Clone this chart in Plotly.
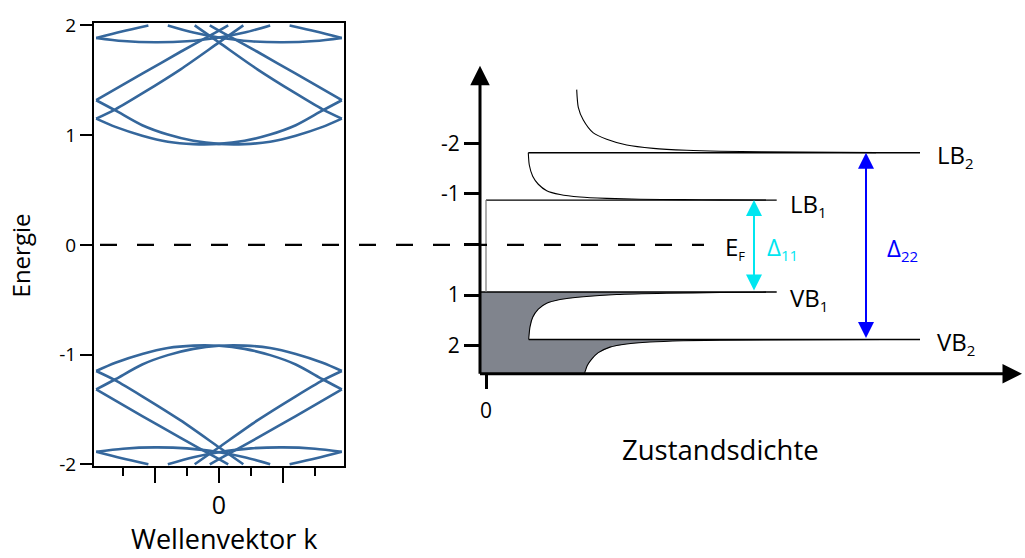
import plotly.graph_objects as go

W, H = 1025, 558
FONT = "Open Sans"
BAND_COLOR = "#35679c"
FILL_GRAY = "#80848d"
CYAN = "#00e6f0"
BLUE = "#0000ff"


def xdom(px0, px1):
    return [px0 / W, px1 / W]


def ydom(top, bottom):
    return [1 - bottom / H, 1 - top / H]


# ---------------- band structure E(k), left panel ----------------
# k grid shared by the two lowest subband arcs
K_ARC = [-0.96, -0.81, -0.6, -0.4, -0.2, 0.0, 0.2, 0.4, 0.6, 0.81, 0.96]
CB_ARC_1 = [1.15, 1.075, 0.995, 0.94, 0.918, 0.92, 0.948, 1.005, 1.09, 1.225, 1.318]
CB_ARC_2 = [1.318, 1.225, 1.09, 1.005, 0.948, 0.92, 0.918, 0.94, 0.995, 1.075, 1.15]
VB_ARC_1 = [-1.15, -1.075, -0.995, -0.94, -0.918, -0.92, -0.948, -1.005, -1.09, -1.225, -1.318]
VB_ARC_2 = [-1.318, -1.225, -1.09, -1.005, -0.948, -0.92, -0.918, -0.94, -0.995, -1.075, -1.15]

# steep folded branches starting at the upper zone-edge vertex
K_STEEP_A_L = [-0.96, -0.6, -0.3, 0.0, 0.072]
K_STEEP_A_R = [0.96, 0.6, 0.3, 0.0, -0.072]
CB_STEEP_A = [1.318, 1.56, 1.76, 1.952, 2.0]
VB_STEEP_A = [-1.318, -1.56, -1.76, -1.952, -2.0]

# steep folded branches starting at the lower zone-edge vertex
K_STEEP_B_L = [-0.96, -0.81, -0.6, -0.3, 0.0, 0.19]
K_STEEP_B_R = [0.96, 0.81, 0.6, 0.3, 0.0, -0.19]
CB_STEEP_B = [1.15, 1.235, 1.38, 1.6, 1.845, 2.0]
VB_STEEP_B = [-1.15, -1.235, -1.38, -1.6, -1.845, -2.0]

# second subband: shallow arcs
K_HIGH_ARC_L = [-0.96, -0.75, -0.5, -0.25, 0.0, 0.2, 0.4]
K_HIGH_ARC_R = [0.96, 0.75, 0.5, 0.25, 0.0, -0.2, -0.4]
CB_HIGH_ARC = [1.886, 1.858, 1.846, 1.855, 1.89, 1.935, 2.0]
VB_HIGH_ARC = [-1.886, -1.858, -1.846, -1.855, -1.89, -1.935, -2.0]

# second subband: short branches leaving the zone edge
K_HIGH_EDGE_L = [-0.96, -0.76, -0.552]
K_HIGH_EDGE_R = [0.96, 0.76, 0.552]
CB_HIGH_EDGE = [1.886, 1.945, 2.0]
VB_HIGH_EDGE = [-1.886, -1.945, -2.0]

E_TICKS = [-2, -1, 0, 1, 2]
E_TICK_TEXT = ["-2", "-1", "0", "1", "2"]

# ---------------- density of states, right panel ----------------
# energies on the right axis (axis runs from -2 at the top to 2 at the bottom)
LB2, LB1, VB1, VB2 = -1.81, -0.875, 0.94, 1.878
DOS_TICKS = [-2, -1, 0, 1, 2]
DOS_TICK_TEXT = ["-2", "-1", "", "1", "2"]

CB2_DOS = [0.907, 0.923, 0.973, 1.073, 1.207, 1.407, 1.673, 2.007, 2.34, 3.14, 3.9]
CB2_E = [-3.057, -2.709, -2.456, -2.202, -2.076, -1.962, -1.897, -1.859, -1.84, -1.823, -1.812]
CB1_DOS = [0.423, 0.433, 0.467, 0.523, 0.607, 0.74, 0.94, 1.207, 1.54, 1.97, 2.34, 2.8]
CB1_E = [-1.81, -1.568, -1.346, -1.188, -1.061, -0.985, -0.935, -0.909, -0.893, -0.884, -0.879, -0.877]
VB1_DOS = [2.8, 2.34, 1.807, 1.307, 0.973, 0.74, 0.607, 0.523, 0.467, 0.44, 0.427]
VB1_E = [0.944, 0.952, 0.965, 0.99, 1.035, 1.09, 1.165, 1.28, 1.44, 1.63, 1.878]
VB2_DOS = [4.0, 2.34, 1.973, 1.64, 1.407, 1.24, 1.123, 1.057, 1.013, 0.99, 0.983]
VB2_E = [1.88, 1.892, 1.905, 1.93, 1.968, 2.03, 2.139, 2.266, 2.392, 2.519, 2.557]

DOS_MIN, DOS_MAX = -0.06, 5.36
E_TOP, E_BOTTOM = -3.527, 2.557
LEVEL_END_INNER = 2.907
LEVEL_END_OUTER = 4.34
ARROW_11_X = 2.68
ARROW_22_X = 3.80


def join(branches):
    xs, ys = [], []
    for k, e in branches:
        xs += list(k) + [None]
        ys += list(e) + [None]
    return xs, ys


def sub(main, index, size=15):
    return f"{main}<sub><span style='font-size:{size}px'>{index}</span></sub>"


fig = go.Figure()

cb_x, cb_y = join([
    (K_ARC, CB_ARC_1), (K_ARC, CB_ARC_2),
    (K_STEEP_A_L, CB_STEEP_A), (K_STEEP_A_R, CB_STEEP_A),
    (K_STEEP_B_L, CB_STEEP_B), (K_STEEP_B_R, CB_STEEP_B),
    (K_HIGH_ARC_L, CB_HIGH_ARC), (K_HIGH_ARC_R, CB_HIGH_ARC),
    (K_HIGH_EDGE_L, CB_HIGH_EDGE), (K_HIGH_EDGE_R, CB_HIGH_EDGE),
])
vb_x, vb_y = join([
    (K_ARC, VB_ARC_1), (K_ARC, VB_ARC_2),
    (K_STEEP_A_L, VB_STEEP_A), (K_STEEP_A_R, VB_STEEP_A),
    (K_STEEP_B_L, VB_STEEP_B), (K_STEEP_B_R, VB_STEEP_B),
    (K_HIGH_ARC_L, VB_HIGH_ARC), (K_HIGH_ARC_R, VB_HIGH_ARC),
    (K_HIGH_EDGE_L, VB_HIGH_EDGE), (K_HIGH_EDGE_R, VB_HIGH_EDGE),
])
for xs, ys in ((cb_x, cb_y), (vb_x, vb_y)):
    fig.add_trace(go.Scatter(
        x=xs, y=ys, mode="lines", xaxis="x", yaxis="y",
        line=dict(color=BAND_COLOR, width=2.6, shape="spline", smoothing=0.8),
        hoverinfo="skip", showlegend=False,
    ))

# occupied states (filled) below the Fermi level
fill_x = ([DOS_MIN, LEVEL_END_INNER] + VB1_DOS + [VB2_DOS[0]] + VB2_DOS + [DOS_MIN])
fill_y = ([VB1, VB1] + VB1_E + [VB2] + VB2_E + [E_BOTTOM])
fig.add_trace(go.Scatter(
    x=fill_x, y=fill_y, mode="lines", fill="toself", fillcolor=FILL_GRAY,
    line=dict(width=0, color=FILL_GRAY), xaxis="x2", yaxis="y2",
    hoverinfo="skip", showlegend=False,
))

# DOS outlines
for xs, ys in ((CB2_DOS, CB2_E), (CB1_DOS, CB1_E), (VB1_DOS, VB1_E), (VB2_DOS, VB2_E)):
    fig.add_trace(go.Scatter(
        x=xs, y=ys, mode="lines", xaxis="x2", yaxis="y2",
        line=dict(color="black", width=1.1, shape="spline", smoothing=0.7),
        hoverinfo="skip", showlegend=False,
    ))

# band-edge levels
levels = [
    (CB1_DOS[0], LEVEL_END_OUTER, LB2),
    (0.0, LEVEL_END_INNER, LB1),
    (DOS_MIN, LEVEL_END_INNER, VB1),
    (VB1_DOS[-1], LEVEL_END_OUTER, VB2),
]
for x0, x1, e in levels:
    fig.add_trace(go.Scatter(
        x=[x0, x1], y=[e, e], mode="lines", xaxis="x2", yaxis="y2",
        line=dict(color="black", width=1.4), hoverinfo="skip", showlegend=False,
    ))
# zero DOS inside the gap
fig.add_trace(go.Scatter(
    x=[0.0, 0.0], y=[VB1, LB1], mode="lines", xaxis="x2", yaxis="y2",
    line=dict(color="#777777", width=1.2), hoverinfo="skip", showlegend=False,
))

# Fermi level across both panels
fig.add_shape(type="line", xref="paper", yref="y", x0=100 / W, x1=704 / W, y0=0, y1=0,
              line=dict(color="black", width=2.3, dash="17px,20px"))

ann = []
# DOS axes drawn as arrows
ann.append(dict(x=DOS_MIN, y=E_TOP, ax=DOS_MIN, ay=E_BOTTOM + 0.03,
                xref="x2", yref="y2", axref="x2", ayref="y2", text="", showarrow=True,
                arrowhead=2, arrowsize=1.3, arrowwidth=3, arrowcolor="black"))
ann.append(dict(x=DOS_MAX, y=E_BOTTOM, ax=DOS_MIN - 0.015, ay=E_BOTTOM,
                xref="x2", yref="y2", axref="x2", ayref="y2", text="", showarrow=True,
                arrowhead=2, arrowsize=1.3, arrowwidth=3, arrowcolor="black"))
# transition arrows
for xa, top, bottom, col in ((ARROW_11_X, LB1, VB1, CYAN), (ARROW_22_X, LB2, VB2, BLUE)):
    ann.append(dict(x=xa, y=top, ax=xa, ay=bottom, xref="x2", yref="y2", axref="x2", ayref="y2",
                    text="", showarrow=True, arrowside="end+start",
                    arrowhead=2, arrowsize=1.6, startarrowhead=2, startarrowsize=1.6,
                    arrowwidth=2, arrowcolor=col))

lab = dict(xref="x2", yref="y2", showarrow=False, xanchor="left", yanchor="middle",
           font=dict(family=FONT, size=24, color="black"))
ann.append(dict(lab, x=4.49, y=LB2, text=sub("LB", 2), yshift=-3))
ann.append(dict(lab, x=3.02, y=LB1, text=sub("LB", 1), yshift=-4))
ann.append(dict(lab, x=3.02, y=VB1, text=sub("VB", 1), yshift=-7))
ann.append(dict(lab, x=4.49, y=VB2, text=sub("VB", 2), yshift=-3))
ann.append(dict(lab, x=2.37, y=0, text=sub("E", "F", 13), yshift=-3))
ann.append(dict(lab, x=2.79, y=0, text=sub("Δ", 11), yshift=-3,
                font=dict(family=FONT, size=24, color=CYAN)))
ann.append(dict(lab, x=3.99, y=0, text=sub("Δ", 22), yshift=-4,
                font=dict(family=FONT, size=24, color=BLUE)))

# axis titles
title = dict(xref="paper", yref="paper", showarrow=False, xanchor="center", yanchor="middle")
ann.append(dict(title, x=20 / W, y=1 - 254 / H, text="Energie", textangle=-90,
                font=dict(family=FONT, size=24, color="black")))
ann.append(dict(title, x=224 / W, y=1 - 548 / H, text="Wellenvektor k",
                font=dict(family=FONT, size=27, color="black")))
ann.append(dict(title, x=720 / W, y=1 - 456 / H, text="Zustandsdichte",
                font=dict(family=FONT, size=27.5, color="black")))

fig.update_layout(
    width=W, height=H, margin=dict(l=0, r=0, t=0, b=0),
    paper_bgcolor="white", plot_bgcolor="white", showlegend=False,
    font=dict(family=FONT, color="black"),
    annotations=ann,
    xaxis=dict(domain=xdom(94, 344), range=[-0.977, 0.977], anchor="y",
               showline=True, mirror=True, linecolor="black", linewidth=2,
               showgrid=False, zeroline=False, ticks="outside",
               tickvals=[-0.5, 0, 0.5], ticktext=["", "0", ""], ticklen=15, tickwidth=2,
               tickcolor="black", tickfont=dict(size=25), ticklabelstandoff=1),
    yaxis=dict(domain=ydom(12.7, 473.3), range=[-2.02, 2.02], anchor="x",
               showline=True, mirror=True, linecolor="black", linewidth=2,
               showgrid=False, zeroline=False, ticks="outside", tickvals=E_TICKS,
               ticktext=E_TICK_TEXT,
               ticklen=12, tickwidth=2, tickcolor="black", tickfont=dict(size=19)),
    xaxis2=dict(domain=xdom(480, 1022), range=[DOS_MIN, DOS_MAX], anchor="y2",
                showline=False, showgrid=False, zeroline=False, ticks="outside",
                tickvals=[0], ticktext=["0"], ticklen=14, tickwidth=2.5, tickcolor="black",
                tickfont=dict(size=21), ticklabelstandoff=4),
    yaxis2=dict(domain=ydom(57, 377), range=[E_BOTTOM, E_TOP], anchor="x2",
                showline=False, showgrid=False, zeroline=False, ticks="outside",
                tickvals=DOS_TICKS, ticktext=DOS_TICK_TEXT, ticklen=15, tickwidth=2.5,
                tickcolor="black", tickfont=dict(size=21)),
)
fig.update_xaxes(
    selector=dict(anchor="y"),
    minor=dict(tickvals=[-0.75, -0.25, 0.25, 0.75], ticks="outside", ticklen=8,
               tickwidth=2, tickcolor="black", showgrid=False),
)

fig.write_html("out.html")
